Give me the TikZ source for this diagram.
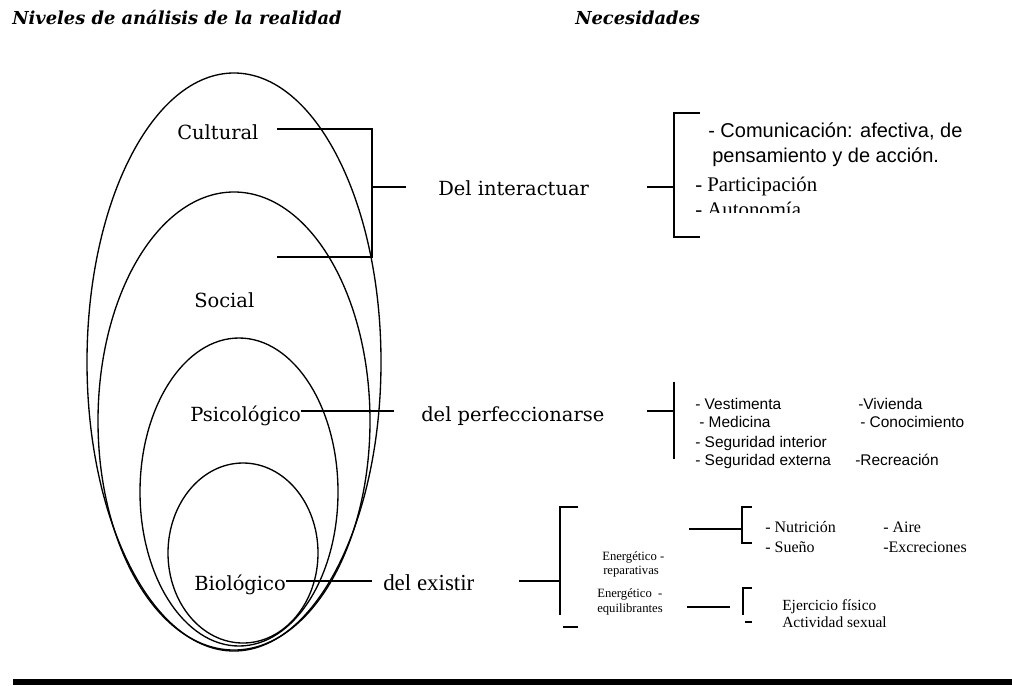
\documentclass[tikz,border=0pt]{standalone}
\usepackage{fontspec}
\setmainfont{Liberation Serif}
\setsansfont{Liberation Sans}
\newfontfamily\lucida{DejaVu Serif}
\usetikzlibrary{positioning}
\begin{document}
\begin{tikzpicture}[x=0.75pt,y=-0.75pt,
  ring/.style={line width=1pt},
  bar/.style={line width=1.5pt},
  txt/.style={inner sep=0,anchor=base west},
  titulo/.style={txt,font=\lucida\bfseries\itshape\fontsize{13.4}{16}\selectfont},
  nivel/.style={txt,font=\lucida\fontsize{14.6}{17}\selectfont},
  necsans/.style={txt,font=\sffamily\fontsize{11.6}{14}\selectfont},
  necserif/.style={txt,font=\fontsize{12}{14}\selectfont}]
\useasboundingbox (0,0) rectangle (1012,685);
\node[titulo] (tniv) at (12,25) {Niveles de análisis de la realidad};
\node[titulo] (tnec) at (575,25) {Necesidades};
% niveles
\draw[ring] (234,362) ellipse [x radius=147, y radius=289];
\draw[ring] (234,421) ellipse [x radius=136, y radius=229];
\draw[ring] (239,492) ellipse [x radius=99, y radius=154];
\draw[ring] (243,553) ellipse [x radius=75, y radius=90];
\node[nivel] (cult) at (177,139) {Cultural};
\node[nivel] (soc) at (194,307) {Social};
\node[nivel] (psi) at (190,421) {Psicológico};
\node[nivel] (bio) at (194,590) {Biológico};
% del interactuar
\coordinate (c1) at (277,129);
\coordinate (c2) at (372,129);
\coordinate (c3) at (372,257);
\coordinate (c4) at (277,257);
\coordinate (cj) at (372,187);
\coordinate (ci) at (406,187);
\draw[bar] (c1) -- (c2) -- (c3) -- (c4);
\draw[bar] (cj) -- (ci);
\node[nivel] (inter) at (438,195) {Del interactuar};
\coordinate (ia) at (647,187);
\coordinate (ib) at (674,187);
\draw[bar] (ia) -- (ib);
\draw[bar] (700,113) -- (674,113) -- (674,237) -- (700,237);
\node[txt,font=\sffamily\fontsize{15}{18}\selectfont] (com1) at (708,137) {- Comunicación: afectiva, de};
\node[txt,font=\sffamily\fontsize{15}{18}\selectfont] (com2) at (712,162) {pensamiento y de acción.};
\node[txt,font=\fontsize{15.6}{18}\selectfont] (part) at (695,191) {- Participación};
\begin{scope}
\clip (690,195) rectangle (830,212.5);
\node[txt,font=\fontsize{15.6}{18}\selectfont] (auto) at (695,216) {- Autonomía};
\end{scope}
% del perfeccionarse
\coordinate (pj) at (394,411);
\draw[bar] (psi.east |- pj) -- (pj);
\node[nivel] (perf) at (421,421) {del perfeccionarse};
\coordinate (pa) at (647,411);
\coordinate (pb) at (674,411);
\draw[bar] (pa) -- (pb);
\draw[bar] (674,382) -- (674,459);
\node[necsans] (vest) at (695,409) {- Vestimenta};
\node[necsans] (viv) at (858,409) {-Vivienda};
\node[necsans] (med) at (699,427) {- Medicina};
\node[necsans] (con) at (860,427) {- Conocimiento};
\node[necsans] (segi) at (695,447) {- Seguridad interior};
\node[necsans] (sege) at (695,465) {- Seguridad externa};
\node[necsans] (rec) at (855,465) {-Recreación};
% del existir
\coordinate (ej) at (372,581);
\draw[bar] (bio.east |- ej) -- (ej);
\node[txt,font=\fontsize{17.2}{20}\selectfont] (exis) at (383,590) {del existir};
\coordinate (ea) at (519,581);
\coordinate (eb) at (560,581);
\draw[bar] (ea) -- (eb);
\draw[bar] (578,507) -- (560,507) -- (560,615);
\draw[bar] (563,627) -- (578,627);
\node[txt,font=\fontsize{9.5}{11}\selectfont] (rep1) at (602,560) {Energético -};
\node[txt,font=\fontsize{9.5}{11}\selectfont] (rep2) at (603,574) {reparativas};
\node[txt,font=\fontsize{9.5}{11}\selectfont] (equ1) at (597,597) {Energético \ -};
\node[txt,font=\fontsize{9.5}{11}\selectfont] (equ2) at (597,612) {equilibrantes};
\coordinate (ra) at (689,529);
\coordinate (rb) at (742,529);
\draw[bar] (ra) -- (rb);
\draw[bar] (752,507) -- (742,507) -- (742,543) -- (752,543);
\node[necserif] (nut) at (765,532) {- Nutrición};
\node[necserif] (aire) at (883,532) {- Aire};
\node[necserif] (sue) at (765,552) {- Sueño};
\node[necserif] (exc) at (883,552) {-Excreciones};
\coordinate (qa) at (687,607);
\coordinate (qb) at (730,607);
\draw[bar] (qa) -- (qb);
\draw[bar] (752,588) -- (743,588) -- (743,615);
\draw[bar] (745,622) -- (752,622);
\node[txt,font=\fontsize{11.6}{14}\selectfont] (ejer) at (782,610) {Ejercicio físico};
\node[txt,font=\fontsize{11.6}{14}\selectfont] (sex) at (782,627) {Actividad sexual};
% barra
\fill (13,679) rectangle (1012,685);
\end{tikzpicture}
\end{document}
